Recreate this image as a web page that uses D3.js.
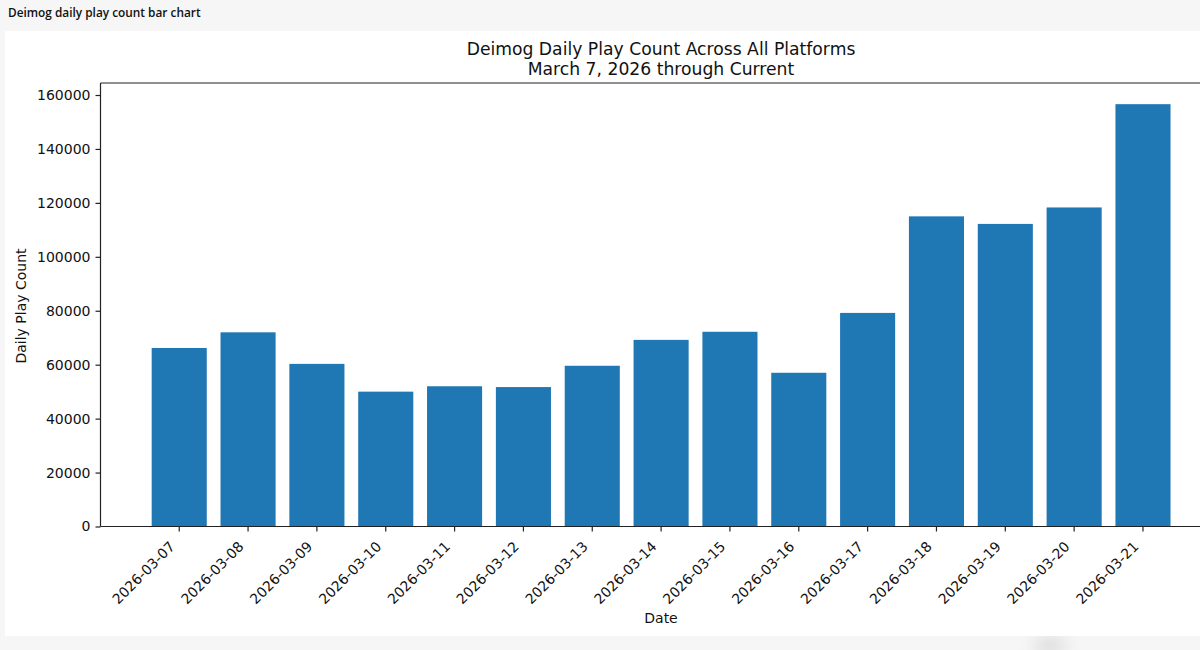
<!DOCTYPE html>
<html>
<head>
<meta charset="utf-8">
<script src="https://cdn.jsdelivr.net/npm/d3@7"></script>
<style>
  html, body { margin: 0; padding: 0; background: #f6f6f6; overflow: hidden; }
  text { fill: #111; }
</style>
</head>
<body>
<script>
    var dates = ["2026-03-07", "2026-03-08", "2026-03-09", "2026-03-10", "2026-03-11",
        "2026-03-12", "2026-03-13", "2026-03-14", "2026-03-15", "2026-03-16",
        "2026-03-17", "2026-03-18", "2026-03-19", "2026-03-20", "2026-03-21"];
    var playCounts = [66200, 72000, 60300, 50000, 52000,
        51700, 59600, 69200, 72200, 57000,
        79200, 115000, 112200, 118300, 156600];
    var yTicks = [0, 20000, 40000, 60000, 80000, 100000, 120000, 140000, 160000];

    var svgWidth = 1200;
    var svgHeight = 650;
    var font = "'DejaVu Sans', sans-serif";

    var svg = d3.select("body").append("svg")
        .attr("width", svgWidth)
        .attr("height", svgHeight)
        .style("display", "block");

    // blurred smudge in the screenshot's bottom strip
    var blur = svg.append("defs").append("filter")
        .attr("id", "smudge")
        .attr("x", "-50%")
        .attr("width", "200%");
    blur.append("feGaussianBlur").attr("stdDeviation", 9);

    svg.append("ellipse")
        .attr("cx", 1050)
        .attr("cy", 646)
        .attr("rx", 16)
        .attr("ry", 8)
        .attr("fill", "#d4d4d4")
        .attr("filter", "url(#smudge)");

    // screenshot header and white chart panel
    svg.append("text")
        .attr("x", 8)
        .attr("y", 17)
        .attr("font-family", "'Open Sans', 'Noto Sans', sans-serif")
        .attr("font-size", 11.85)
        .attr("font-weight", 600)
        .text("Deimog daily play count bar chart");

    svg.append("rect")
        .attr("x", 5)
        .attr("y", 31)
        .attr("width", 1195)
        .attr("height", 605)
        .attr("fill", "#fff");

    var x = d3.scaleBand()
        .domain(dates)
        .range([144.8, 1177.4])
        .paddingInner(0.2)
        .paddingOuter(0.1);

    var y = d3.scaleLinear()
        .domain([0, 164450])
        .range([526.5, 83]);

    // bars
    svg.append("g")
        .selectAll("rect")
        .data(playCounts)
        .enter()
        .append("rect")
        .attr("x", (d, i) => x(dates[i]))
        .attr("y", d => y(d))
        .attr("width", x.bandwidth())
        .attr("height", d => y(0) - y(d))
        .attr("fill", "#1f77b4");

    // axes
    var yAxis = svg.append("g")
        .attr("transform", "translate(100.5,0)")
        .call(d3.axisLeft(y).tickValues(yTicks).tickFormat(d3.format("d")).tickSize(5).tickPadding(5));
    var xAxis = svg.append("g")
        .attr("transform", "translate(0,526.5)")
        .call(d3.axisBottom(x).tickSize(5).tickPadding(5));

    yAxis.select(".domain").attr("d", "M0,83V526.5");
    xAxis.select(".domain").attr("d", "M100.5,0H1200");

    svg.selectAll(".tick text")
        .attr("font-family", font)
        .attr("font-size", 14);

    // rotated labels end just under their tick
    xAxis.selectAll(".tick text")
        .attr("text-anchor", "end")
        .attr("x", 0)
        .attr("y", 0)
        .attr("dy", "0.35em")
        .attr("transform", "translate(-7,17.5) rotate(-45)");

    // top spine
    svg.append("line")
        .attr("x1", 100.5)
        .attr("x2", 1200)
        .attr("y1", 83)
        .attr("y2", 83)
        .attr("stroke", "#222")
        .attr("stroke-width", 1.2);

    svg.selectAll(".domain, .tick line")
        .attr("stroke", "#222")
        .attr("stroke-width", 1.2);

    // titles
    svg.append("text")
        .attr("x", 661)
        .attr("y", 55)
        .attr("text-anchor", "middle")
        .attr("font-family", font)
        .attr("font-size", 17.2)
        .text("Deimog Daily Play Count Across All Platforms");
    svg.append("text")
        .attr("x", 661)
        .attr("y", 75)
        .attr("text-anchor", "middle")
        .attr("font-family", font)
        .attr("font-size", 17.2)
        .text("March 7, 2026 through Current");

    svg.append("text")
        .attr("x", 661)
        .attr("y", 623)
        .attr("text-anchor", "middle")
        .attr("font-family", font)
        .attr("font-size", 14)
        .text("Date");
    svg.append("text")
        .attr("transform", "translate(26,306) rotate(-90)")
        .attr("text-anchor", "middle")
        .attr("font-family", font)
        .attr("font-size", 14)
        .text("Daily Play Count");
</script>
</body>
</html>
